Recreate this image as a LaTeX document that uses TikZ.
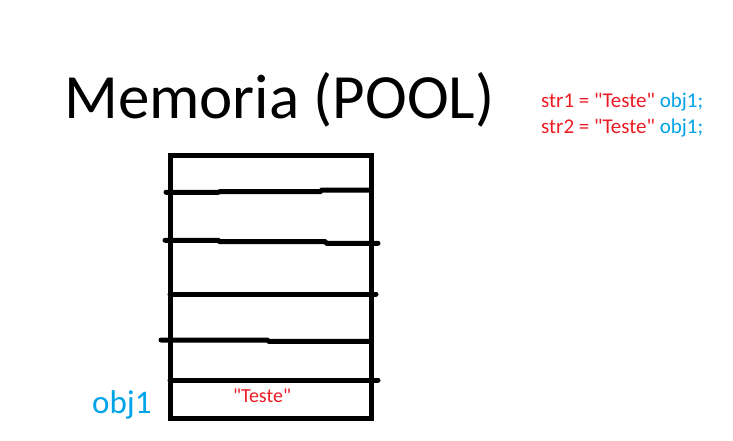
\documentclass[tikz,border=0pt]{standalone}
\usepackage{fontspec}
\setmainfont{Carlito}
\definecolor{pooltext}{RGB}{237,28,36}
\definecolor{poolref}{RGB}{0,162,232}
\newcommand{\qt}[1]{\textquotedbl#1\textquotedbl}
\tikzset{
	wall/.style={line width=5pt,line cap=butt},
	slot/.style={line width=5pt,line cap=round},
	codeline/.style={anchor=base west,inner sep=0pt,font=\fontsize{21}{25}\selectfont,text=pooltext},
}
\begin{document}
\begin{tikzpicture}[x=1pt,y=-1pt]
			\useasboundingbox (0,0) rectangle (733,440);
			%\clip (0,0) rectangle (733,440);
			\node (title) [anchor=base west,inner sep=0pt,font=\fontsize{63}{70}\selectfont] at (64,118) {Memoria (POOL)};
			\node (code1) [codeline] at (541,107) {str1 = \qt{Teste} \textcolor{poolref}{obj1;}};
			\node (code2) [codeline] at (541,133) {str2 = \qt{Teste} \textcolor{poolref}{obj1;}};
			\coordinate (TL) at (170,155);
			\coordinate (TR) at (371,155);
			\coordinate (BL) at (170,418);
			\coordinate (BR) at (371,418);
			\draw [wall] (TL) -- (TR) -- (BR) -- (BL) -- cycle;
			\draw [slot] (166,192.3) -- (218,192.3) -- (220,191.7) -- (320,191.7) -- (322,190) -- (370,190);
			\draw [slot] (165,240.3) -- (218,240.3) -- (220,241.7) -- (325,241.7) -- (327,243.3) -- (378,243.3);
			\draw [slot] (170,294) -- (376,294);
			\draw [slot] (161,340) -- (267,340) -- (269,341.3) -- (371,341.3);
			\draw [slot] (170,380) -- (378,380);
			\node (val) [anchor=base,inner sep=0pt,font=\fontsize{20}{24}\selectfont,text=pooltext] at (262,402) {\qt{Teste}};
			\node (ref) [anchor=base west,inner sep=0pt,font=\fontsize{33}{38}\selectfont,text=poolref] at (92,413) {obj1};
		\end{tikzpicture}
\end{document}
